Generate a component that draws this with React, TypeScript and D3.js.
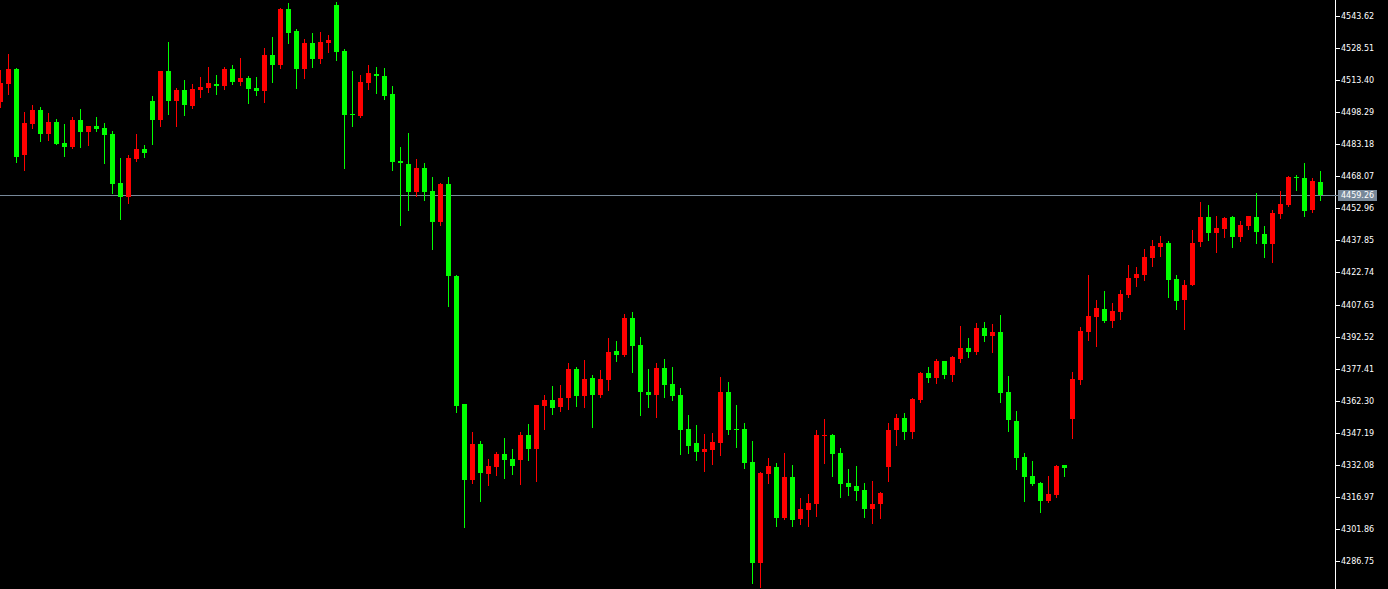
import React from 'react';
import * as d3 from 'd3';

const opens = [4503.09,4511.56,4518.64,4478.10,4492.71,4499.31,4488.00,4493.66,4483.77,4481.88,4494.60,4488.95,4491.77,4490.83,4488.00,4464.91,4458.31,4476.22,4480.94,4503.56,4494.60,4517.70,4503.56,4508.74,4501.20,4508.74,4509.68,4511.56,4510.62,4518.64,4512.51,4514.40,4509.68,4508.27,4525.23,4520.52,4546.92,4536.55,4518.64,4530.90,4523.35,4530.90,4548.80,4527.12,4497.42,4496.48,4512.04,4516.29,4515.34,4506.85,4475.28,4473.86,4460.67,4471.98,4461.14,4446.53,4464.43,4421.07,4360.74,4324.93,4341.89,4327.76,4331.05,4337.19,4334.82,4334.35,4346.13,4339.54,4359.80,4362.63,4359.33,4363.57,4377.24,4364.52,4373.00,4364.99,4372.06,4385.73,4383.84,4401.27,4388.56,4366.40,4364.99,4377.71,4370.17,4364.99,4348.96,4342.36,4338.13,4339.07,4342.36,4366.40,4348.96,4348.96,4333.41,4285.81,4327.76,4331.05,4307.02,4326.34,4306.55,4310.79,4313.61,4345.66,4346.13,4337.66,4323.52,4322.10,4320.21,4311.26,4313.61,4331.05,4348.49,4354.15,4347.55,4362.63,4375.36,4373.00,4381.01,4374.41,4381.95,4387.14,4385.25,4396.56,4392.80,4394.68,4366.40,4352.74,4335.76,4326.81,4323.52,4315.03,4317.86,4332.00,4353.68,4372.06,4394.68,4401.75,4405.52,4399.87,4404.11,4412.12,4420.13,4421.54,4429.56,4434.74,4436.63,4419.66,4409.76,4416.83,4437.10,4448.88,4441.34,4443.23,4448.88,4439.46,4444.64,4448.88,4440.87,4436.16,4450.30,4454.54,4467.74,4467.27,4452.18,4465.38];

const highs = [4518.17,4525.70,4519.11,4498.37,4501.67,4500.73,4497.90,4495.07,4492.71,4496.01,4499.79,4491.77,4496.01,4493.19,4489.42,4476.69,4478.10,4488.00,4482.82,4505.91,4517.70,4531.37,4509.68,4513.45,4511.56,4514.87,4519.58,4515.81,4519.58,4520.52,4523.82,4515.34,4514.87,4528.54,4533.72,4547.39,4549.75,4537.49,4532.78,4535.61,4536.08,4534.66,4550.22,4528.06,4517.70,4515.81,4520.52,4519.58,4519.11,4510.62,4481.88,4488.48,4476.22,4474.34,4467.74,4464.91,4467.74,4421.54,4360.74,4347.55,4343.31,4334.82,4338.13,4344.72,4339.54,4347.55,4351.32,4360.27,4364.99,4369.23,4369.70,4380.07,4378.19,4381.48,4374.41,4376.77,4391.85,4390.44,4403.16,4404.11,4392.32,4377.24,4380.07,4381.95,4378.19,4368.29,4355.56,4350.85,4346.60,4347.08,4373.47,4371.12,4360.27,4351.79,4343.31,4328.70,4335.29,4332.94,4337.66,4332.00,4316.44,4318.33,4348.49,4353.68,4346.60,4340.01,4330.11,4331.52,4323.52,4324.46,4319.27,4351.79,4356.03,4356.50,4363.57,4375.83,4378.19,4381.95,4381.01,4383.37,4397.51,4391.85,4398.92,4399.39,4398.45,4402.69,4373.94,4357.45,4337.66,4333.88,4323.99,4326.81,4332.00,4332.00,4375.83,4397.03,4421.54,4409.76,4414.01,4408.35,4414.48,4426.26,4425.32,4433.80,4438.04,4439.93,4437.57,4421.54,4419.19,4442.76,4455.96,4454.54,4449.36,4448.88,4449.36,4447.00,4449.36,4460.20,4444.64,4452.18,4461.14,4468.21,4468.68,4474.34,4467.27,4470.57];

const lows = [4500.73,4506.85,4474.81,4471.04,4490.83,4484.71,4485.18,4483.29,4477.63,4481.50,4481.88,4482.82,4489.42,4474.34,4460.20,4447.94,4455.49,4475.28,4477.16,4483.29,4491.77,4497.42,4491.77,4496.95,4500.26,4505.44,4507.80,4506.85,4509.21,4511.56,4511.09,4502.62,4506.38,4503.09,4512.51,4519.11,4530.90,4509.68,4514.40,4519.58,4521.47,4526.65,4522.88,4471.98,4491.77,4496.01,4509.21,4507.33,4504.50,4471.04,4445.11,4452.18,4458.78,4456.90,4433.80,4445.11,4406.93,4356.98,4302.77,4323.52,4315.03,4322.57,4327.29,4325.87,4327.76,4323.05,4334.35,4324.46,4348.96,4356.03,4357.45,4358.39,4359.80,4359.33,4349.91,4364.05,4367.35,4381.01,4383.37,4375.83,4355.56,4359.33,4354.62,4364.05,4362.63,4337.19,4337.66,4334.35,4329.17,4332.47,4336.72,4346.60,4340.48,4330.58,4276.38,4274.50,4323.52,4303.25,4306.55,4303.25,4304.19,4303.25,4307.96,4332.94,4326.81,4316.91,4317.86,4315.50,4307.49,4304.66,4307.02,4324.46,4341.42,4344.25,4344.72,4361.69,4371.12,4370.65,4373.00,4371.59,4380.54,4382.90,4384.31,4390.44,4385.25,4361.69,4348.02,4330.11,4315.03,4322.57,4309.84,4314.60,4316.91,4326.81,4344.72,4370.17,4390.91,4388.09,4399.39,4397.03,4400.81,4411.18,4416.36,4419.19,4425.79,4430.50,4411.18,4405.52,4396.09,4416.60,4435.21,4438.04,4432.39,4439.46,4434.74,4437.57,4443.23,4436.63,4430.03,4427.67,4448.41,4454.07,4461.61,4449.36,4451.24,4456.90];

const closes = [4512.04,4518.64,4477.16,4493.19,4499.31,4488.00,4493.66,4483.29,4481.88,4494.60,4488.95,4491.77,4490.36,4487.53,4464.43,4458.31,4476.69,4480.94,4479.05,4494.60,4517.70,4503.56,4508.74,4501.67,4509.21,4510.15,4512.04,4510.62,4518.64,4512.51,4514.40,4509.21,4508.27,4525.23,4520.52,4546.92,4535.61,4518.64,4530.90,4523.35,4531.37,4532.31,4526.65,4496.95,4496.95,4512.51,4516.76,4515.34,4505.91,4474.81,4474.34,4460.67,4471.98,4460.67,4446.53,4464.43,4421.07,4359.80,4324.93,4341.89,4328.23,4331.52,4337.19,4334.35,4331.52,4346.13,4339.54,4360.27,4362.63,4358.86,4363.57,4377.24,4364.52,4372.53,4364.99,4372.53,4385.25,4383.84,4401.27,4388.09,4366.40,4364.99,4377.71,4369.70,4364.52,4348.49,4340.95,4338.13,4339.54,4342.84,4366.40,4348.49,4348.49,4332.94,4285.81,4328.23,4331.52,4307.02,4326.34,4306.07,4311.26,4314.08,4346.13,4346.13,4337.19,4323.05,4321.62,4319.74,4311.26,4313.61,4318.80,4348.49,4354.15,4347.55,4363.10,4375.36,4373.00,4381.01,4374.41,4382.90,4387.14,4385.25,4396.56,4392.80,4394.68,4365.93,4353.21,4335.29,4326.34,4323.05,4315.03,4318.33,4331.52,4330.58,4372.53,4395.15,4402.22,4405.99,4399.87,4404.58,4412.59,4420.13,4422.02,4430.03,4435.21,4436.63,4419.19,4409.29,4416.83,4436.63,4448.88,4441.34,4443.70,4448.41,4439.46,4445.11,4449.36,4441.87,4436.16,4450.77,4455.01,4467.74,4467.27,4451.71,4465.85,4459.26];

const tickLabels = ["4543.62","4528.51","4513.40","4498.29","4483.18","4468.07","4452.96","4437.85","4422.74","4407.63","4392.52","4377.41","4362.30","4347.19","4332.08","4316.97","4301.86","4286.75"];

const currentPrice = 4459.26;

const W = 1388;
const H = 589;
const AXIS_X = 1335;
const BULL = '#ff0000';
const BEAR = '#00ff00';
const FONT = '"DejaVu Sans", sans-serif';

export default function App() {
  const n = opens.length;
  const x = d3.scaleLinear().domain([0, n - 1]).range([0.5, 1320.5]);
  const y = d3.scaleLinear().domain([4286.75, 4543.62]).range([561, 16]);
  const py = (v: number) => Math.round(y(v));

  const candles = d3.range(n).map((i) => {
    const o = opens[i], c = closes[i], h = highs[i], l = lows[i];
    const col = c > o ? BULL : BEAR;
    const cx = x(i);
    const top = py(Math.max(o, c));
    const bot = py(Math.min(o, c));
    const hgt = Math.max(1, bot - top);
    return (
      <g key={i}>
        <line x1={cx} x2={cx} y1={py(h)} y2={py(l) + 1} stroke={col} strokeWidth={1} />
        <rect x={cx - 2.5} y={top} width={5} height={hgt} fill={col} />
      </g>
    );
  });

  const cpY = py(currentPrice) + 0.5;

  return (
    <div style={{ position: 'absolute', left: 0, top: 0 }}>
      <svg width={W} height={H} style={{ display: 'block', background: '#000' }} shapeRendering="crispEdges">
        <rect x={0} y={0} width={W} height={H} fill="#000" />
        <line x1={0} x2={AXIS_X} y1={cpY} y2={cpY} stroke="#778899" strokeWidth={1} />
        {candles}
        <line x1={AXIS_X + 0.5} x2={AXIS_X + 0.5} y1={0} y2={H} stroke="#ffffff" strokeWidth={1} />
        {tickLabels.map((t) => {
          const ty = py(+t) + 0.5;
          return (
            <g key={t}>
              <line x1={AXIS_X} x2={AXIS_X + 5} y1={ty} y2={ty} stroke="#ffffff" strokeWidth={1} />
              <text x={AXIS_X + 6} y={ty} dy="0.35em" fill="#ffffff" fontFamily={FONT} fontSize={8}>{t}</text>
            </g>
          );
        })}
        <line x1={AXIS_X} x2={AXIS_X + 3} y1={cpY} y2={cpY} stroke="#778899" strokeWidth={1} />
        <rect x={AXIS_X + 3} y={cpY - 5.5} width={39} height={11} fill="#778899" />
        <text x={AXIS_X + 6} y={cpY} dy="0.35em" fill="#ffffff" fontFamily={FONT} fontSize={8}>{currentPrice.toFixed(2)}</text>
      </svg>
    </div>
  );
}
